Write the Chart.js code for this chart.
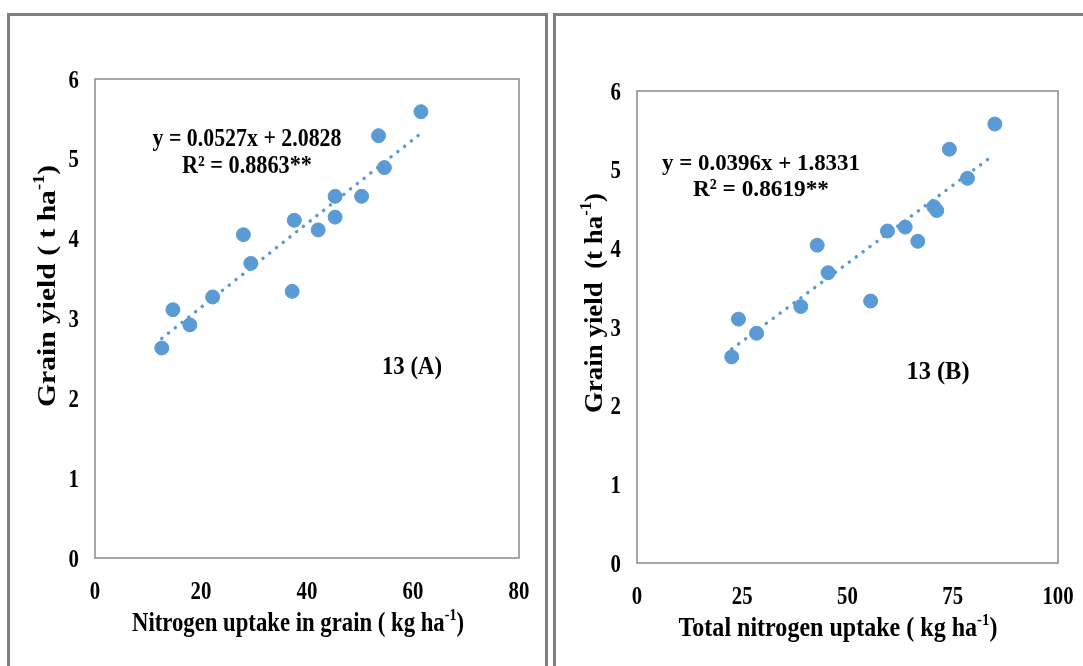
<!DOCTYPE html>
<html>
<head>
<meta charset="utf-8">
<script src="https://cdn.jsdelivr.net/npm/chart.js@4.4.0/dist/chart.umd.min.js"></script>
<style>
  body { margin: 0; background: #fff; width: 1083px; height: 666px; overflow: hidden; position: relative; }
  .panel { position: absolute; top: 13px; height: 720px; border: 3px solid #7f7f7f; box-sizing: border-box; }
  canvas { position: absolute; top: 0; }
</style>
</head>
<body>
<div class="panel" style="left:7px;width:541px"></div>
<div class="panel" style="left:553px;width:600px"></div>
<canvas id="chartA" width="548" height="666" style="left:0"></canvas>
<canvas id="chartB" width="535" height="666" style="left:548px"></canvas>
<script>
// panel A: N uptake in grain vs grain yield
const uptakeGrain = [12.6, 14.7, 17.9, 22.2, 28.0, 29.4, 37.2, 37.6, 42.1, 45.3, 45.3, 50.3, 53.5, 54.6, 61.5];
const yieldA = [2.63, 3.11, 2.92, 3.27, 4.05, 3.69, 3.34, 4.23, 4.11, 4.27, 4.53, 4.53, 5.29, 4.89, 5.59];
const trendAX = [12.6, 61.5];
const trendAY = [2.75, 5.32];
const xTicksA = [0, 20, 40, 60, 80];

// panel B: total N uptake vs grain yield
const uptakeTotal = [22.5, 24.1, 28.4, 38.9, 42.8, 45.4, 55.5, 59.5, 63.7, 66.7, 70.5, 71.2, 74.2, 78.5, 85.0];
const yieldB = [2.62, 3.10, 2.92, 3.26, 4.04, 3.69, 3.33, 4.22, 4.27, 4.09, 4.53, 4.48, 5.26, 4.89, 5.58];
const trendBX = [22.5, 84.6];
const trendBY = [2.72, 5.18];
const xTicksB = [0, 25, 50, 75, 100];

const yTicks = [0, 1, 2, 3, 4, 5, 6];

const BLUE = '#5b9bd5';
const FONT = '"Liberation Serif", "Times New Roman", serif';

function toPoints(xs, ys) {
    return xs.map((x, i) => ({ x: x, y: ys[i] }));
}

// text with ^sup^ parts, centred at (x, y), squeezed to given width
function drawText(ctx, text, x, y, size, width, rotate) {
    const parts = text.split('^');
    let total = 0;
    parts.forEach((p, i) => {
        ctx.font = 'bold ' + (i % 2 ? size * 0.62 : size) + 'px ' + FONT;
        total += ctx.measureText(p).width;
    });
    const sx = width ? width / total : 1;
    ctx.save();
    ctx.translate(x, y);
    if (rotate) ctx.rotate(-Math.PI / 2);
    ctx.scale(sx, 1);
    ctx.fillStyle = '#000';
    ctx.textAlign = 'left';
    ctx.textBaseline = 'alphabetic';
    let cx = -total / 2;
    parts.forEach((p, i) => {
        const sup = i % 2 === 1;
        ctx.font = 'bold ' + (sup ? size * 0.62 : size) + 'px ' + FONT;
        ctx.fillText(p, cx, size * 0.33 - (sup ? size * 0.4 : 0));
        cx += ctx.measureText(p).width;
    });
    ctx.restore();
}

function drawTick(ctx, label, x, y, align) {
    ctx.save();
    ctx.translate(x, y);
    ctx.scale(0.8, 1);
    ctx.font = 'bold 26px ' + FONT;
    ctx.fillStyle = '#000';
    ctx.textAlign = align;
    ctx.textBaseline = 'alphabetic';
    ctx.fillText(label, 0, 26 * 0.33);
    ctx.restore();
}

function makeChart(id, offsetX, pad, xs, ys, tx, ty, xMax, xTicks, texts) {
    const deco = {
        id: 'deco' + id,
        afterDraw(chart) {
            const ctx = chart.ctx;
            const a = chart.chartArea;
            const xS = chart.scales.x, yS = chart.scales.y;
            ctx.save();
            ctx.strokeStyle = '#8a8a8a';
            ctx.lineWidth = 1.5;
            ctx.strokeRect(a.left, a.top, a.right - a.left, a.bottom - a.top);
            ctx.restore();
            yTicks.forEach(v => drawTick(ctx, String(v), a.left - 16, yS.getPixelForValue(v), 'right'));
            xTicks.forEach(v => drawTick(ctx, String(v), xS.getPixelForValue(v), a.bottom + 32, 'center'));
            texts.forEach(t => drawText(ctx, t.text, t.x - offsetX, t.y, t.size, t.w, t.rot));
        }
    };
    return new Chart(document.getElementById(id), {
        type: 'scatter',
        data: {
            datasets: [{
                data: toPoints(xs, ys),
                backgroundColor: BLUE,
                borderColor: BLUE,
                pointRadius: 7,
                pointHoverRadius: 7,
                order: 1
            }, {
                data: toPoints(tx, ty),
                showLine: true,
                borderColor: BLUE,
                borderWidth: 3.5,
                borderDash: [0.1, 8.5],
                borderCapStyle: 'round',
                pointRadius: 0,
                order: 2
            }]
        },
        options: {
            responsive: false,
            animation: false,
            layout: { padding: pad },
            plugins: { legend: { display: false }, tooltip: { enabled: false } },
            scales: {
                x: { type: 'linear', min: 0, max: xMax, display: false },
                y: { type: 'linear', min: 0, max: 6, display: false }
            }
        },
        plugins: [deco]
    });
}

makeChart('chartA', 0, { left: 95, top: 79, right: 29, bottom: 108 },
    uptakeGrain, yieldA, trendAX, trendAY, 80, xTicksA, [
        { text: 'Nitrogen uptake in grain ( kg ha^-1^)', x: 298, y: 622, size: 27, w: 332 },
        { text: 'Grain yield ( t ha^-1^)', x: 46, y: 286, size: 26, w: 242, rot: true },
        { text: 'y = 0.0527x + 2.0828', x: 247, y: 138, size: 25, w: 189 },
        { text: 'R² = 0.8863**', x: 247, y: 165, size: 25, w: 130 },
        { text: '13 (A)', x: 412, y: 365, size: 26, w: 60 }
    ]);

makeChart('chartB', 548, { left: 89, top: 91, right: 25, bottom: 103 },
    uptakeTotal, yieldB, trendBX, trendBY, 100, xTicksB, [
        { text: 'Total nitrogen uptake ( kg ha^-1^)', x: 838, y: 627, size: 27, w: 319 },
        { text: 'Grain yield  (t ha^-1^)', x: 593, y: 303, size: 26, w: 220, rot: true },
        { text: 'y = 0.0396x + 1.8331', x: 761, y: 162, size: 24, w: 198 },
        { text: 'R² = 0.8619**', x: 761, y: 188, size: 24, w: 136 },
        { text: '13 (B)', x: 938, y: 370, size: 26, w: 63 }
    ]);
</script>
</body>
</html>
